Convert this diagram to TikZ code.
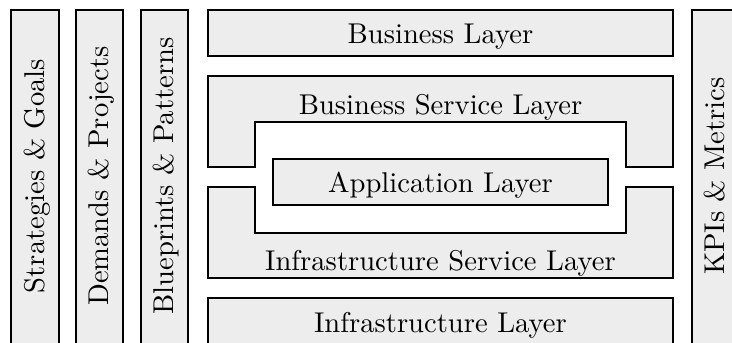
\documentclass[tikz,border=0pt]{standalone}
\usepackage{fontspec}
\setmainfont{lmroman10-regular}[Extension=.otf]
\usetikzlibrary{positioning}
\tikzset{
  layerfont/.style={font=\fontsize{14.3}{17}\selectfont},
  layerbox/.style={draw=black, line width=1pt, fill=black!7},
  layertext/.style={anchor=base, inner sep=0pt, layerfont},
  sidetext/.style={anchor=base, inner sep=0pt, layerfont, rotate=90}
}
\begin{document}
\begin{tikzpicture}[x=0.5pt, y=-0.5pt]
  \useasboundingbox (0,0) rectangle (732,342);

  % vertical side columns
  \draw[layerbox] (11,10) rectangle (59,350);
  \draw[layerbox] (76,10) rectangle (123,350);
  \draw[layerbox] (141,10) rectangle (188,350);
  \draw[layerbox] (692,10) rectangle (739,350);
  \node[sidetext] (sg) at (44,176) {Strategies \& Goals};
  \node[sidetext] (dp) at (108.5,176) {Demands \& Projects};
  \node[sidetext] (bp) at (173.5,176) {Blueprints \& Patterns};
  \node[sidetext] (km) at (724,176) {KPIs \& Metrics};

  % business layer
  \draw[layerbox] (208,10) rectangle (673,56);
  \node[layertext] (bl) at (440.5,44) {Business Layer};

  % business service layer (notched from below)
  \draw[layerbox] (208,76) -- (673,76) -- (673,167) -- (626,167) -- (626,122)
    -- (255,122) -- (255,167) -- (208,167) -- cycle;
  \node[layertext] (bsl) at (440.5,114) {Business Service Layer};

  % application layer
  \draw[layerbox] (273,159) rectangle (608,205);
  \node[layertext] (al) at (440.5,192) {Application Layer};

  % infrastructure service layer (notched from above)
  \draw[layerbox] (208,187) -- (255,187) -- (255,233) -- (626,233) -- (626,187)
    -- (673,187) -- (673,278) -- (208,278) -- cycle;
  \node[layertext] (isl) at (440.5,270) {Infrastructure Service Layer};

  % infrastructure layer
  \draw[layerbox] (208,298) rectangle (673,350);
  \node[layertext] (il) at (440.5,332) {Infrastructure Layer};
\end{tikzpicture}
\end{document}
